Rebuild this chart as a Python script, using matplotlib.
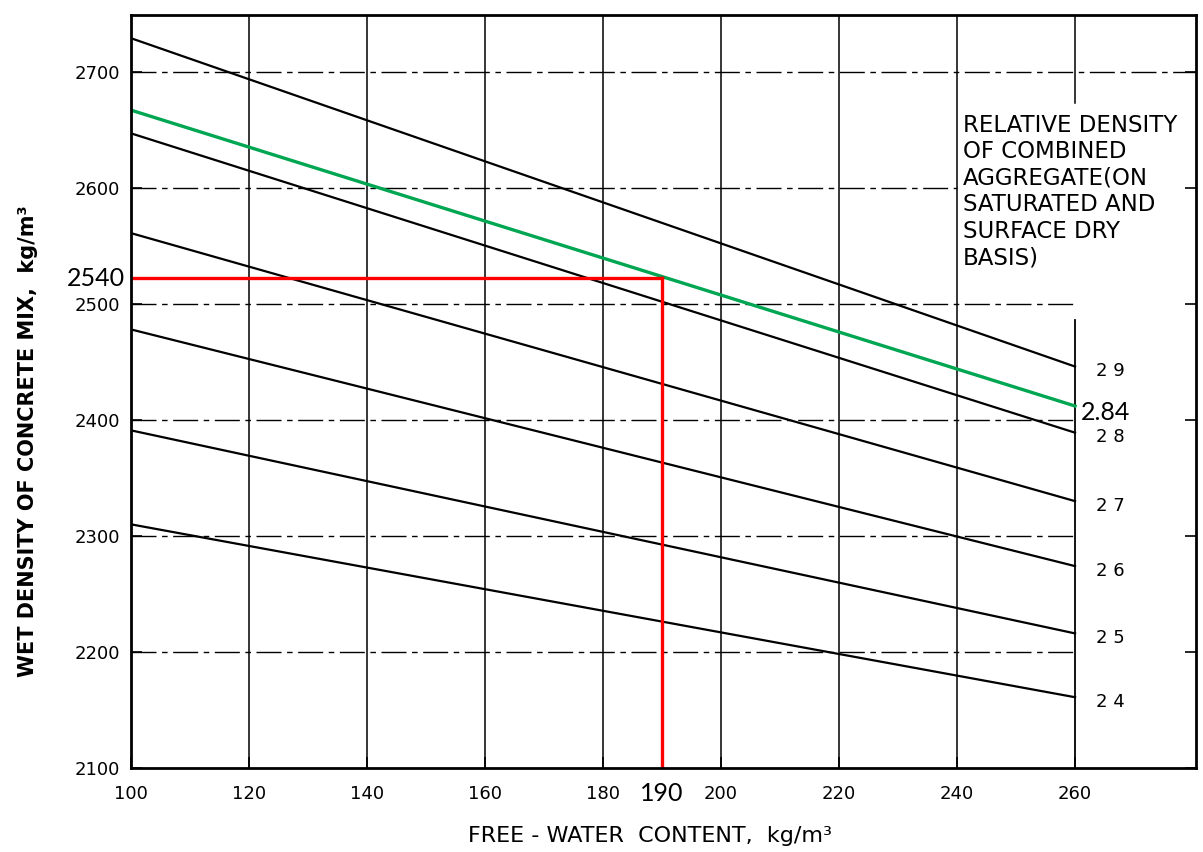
import matplotlib.pyplot as plt

# free-water content (kg/m3) at the two ends of each line
water = [100, 260]

# relative density of combined aggregate, wet density at 100 and 260 kg/m3
rd_labels = ['2 9', '2 8', '2 7', '2 6', '2 5', '2 4']
dens_100 = [2729, 2647, 2561, 2478, 2391, 2310]
dens_260 = [2446, 2389, 2330, 2274, 2216, 2161]

# interpolated line for rd = 2.84 and the reading at 190 kg/m3
green_label = '2.84'
green_dens = [2667, 2412]
read_water = 190
read_dens = 2522
read_label = '2540'

xticks = [100, 120, 140, 160, 180, 200, 220, 240, 260]
yticks = [2100, 2200, 2300, 2400, 2500, 2600, 2700]

fig = plt.figure(figsize=(12.03, 8.52), dpi=100)
ax = fig.add_axes([131 / 1203, 84 / 852, 1065 / 1203, 753 / 852])
ax.set_xlim(100, 280.5)
ax.set_ylim(2100, 2749)

for s in ax.spines.values():
    s.set_linewidth(2.0)

ax.set_xticks(xticks)
ax.set_yticks(yticks)
ax.tick_params(direction='in', length=8, width=1.2, right=True, labelsize=13, pad=8)
ax.tick_params(axis='x', pad=12)

# grid: vertical lines solid, horizontal lines dashed
dash = (0, (18, 4, 4, 4))
for x in xticks[1:-1]:
    ax.axvline(x, color='black', lw=1.1)
ax.plot([260, 260], [2673, 2749], color='black', lw=1.1)
ax.plot([260, 260], [2100, 2486], color='black', lw=1.3)
for y in yticks[1:-2]:
    ax.plot([100, 260], [y, y], color='black', lw=1.0, ls=dash)
ax.plot([100, 240], [2600, 2600], color='black', lw=1.0, ls=dash)
ax.plot([100, 280.5], [2700, 2700], color='black', lw=1.0, ls=dash)

for lab, d0, d1 in zip(rd_labels, dens_100, dens_260):
    ax.plot(water, [d0, d1], color='black', lw=1.6)
    ax.text(263.5, d1 - 4, lab, fontsize=13, ha='left', va='center')

ax.plot(water, green_dens, color='#00a651', lw=2.4)
ax.text(261, green_dens[1] - 6, green_label, fontsize=18, family='Lato',
        ha='left', va='center')

ax.plot([100, read_water], [read_dens, read_dens], color='red', lw=2.4)
ax.plot([read_water, read_water], [2100, read_dens], color='red', lw=2.4)
ax.text(99, read_dens, read_label, fontsize=18, family='Lato', ha='right', va='center')
ax.annotate(str(read_water), xy=(read_water, 2100), xytext=(0, -10),
            textcoords='offset points', fontsize=18, family='Lato', ha='center', va='top')

ax.text(241, 2664,
        'RELATIVE DENSITY\nOF COMBINED\nAGGREGATE(ON\nSATURATED AND\nSURFACE DRY\nBASIS)',
        fontsize=16.5, ha='left', va='top', linespacing=1.2)

fig.text(28 / 1203, 1 - 441 / 852, 'WET DENSITY OF CONCRETE MIX,  kg/m³',
         rotation=90, ha='center', va='center', fontsize=15, fontweight='bold')
fig.text(650 / 1203, 1 - 836 / 852, 'FREE - WATER  CONTENT,  kg/m³',
         ha='center', va='center', fontsize=16)

plt.savefig('out.png')
